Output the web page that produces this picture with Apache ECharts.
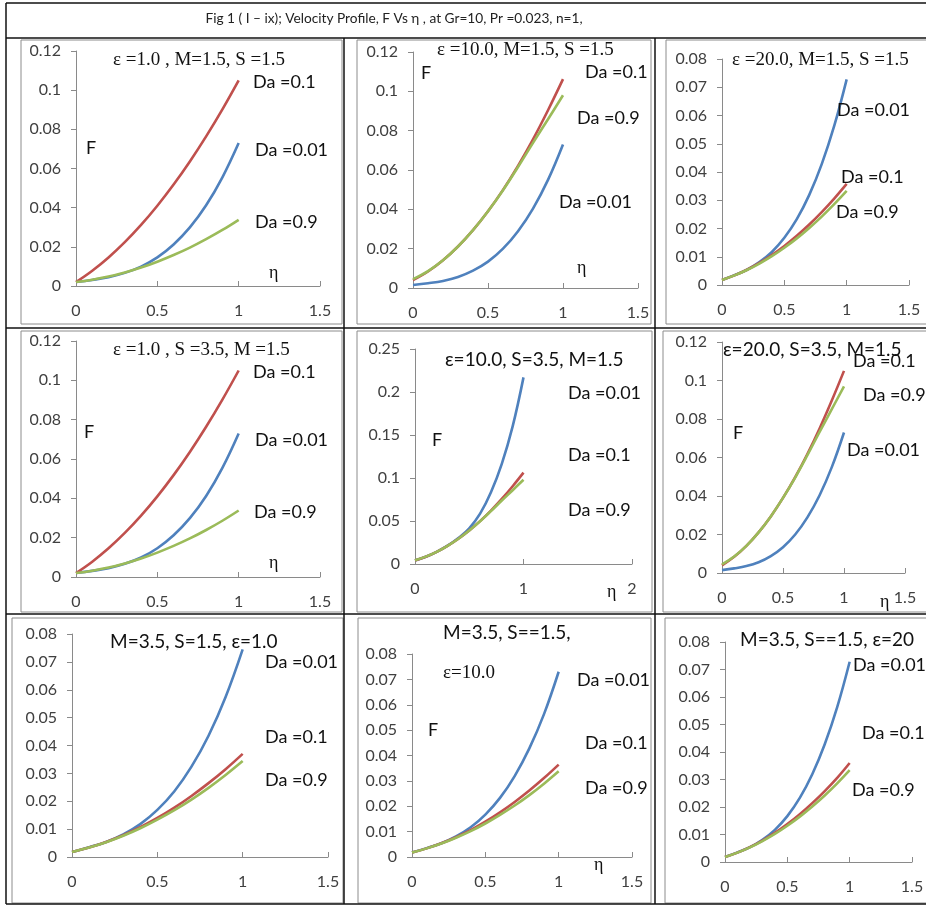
<!DOCTYPE html>
<html><head><meta charset="utf-8">
<script src="https://cdn.jsdelivr.net/npm/echarts@6/dist/echarts.min.js"></script>
<style>html,body{margin:0;padding:0;background:#fff}#c{width:926px;height:905px}</style>
</head><body><div id="c"></div>
<script>
// ---------- data ----------
const ETA = [0, 0.1, 0.2, 0.3, 0.4, 0.5, 0.6, 0.7, 0.8, 0.9, 1.0];
// panel i : eps=1.0, M=1.5, S=1.5
const p1_da01  = [0.002, 0.0078, 0.0146, 0.0224, 0.0312, 0.041, 0.0518, 0.0636, 0.0764, 0.0902, 0.105];
const p1_da001 = [0.002, 0.0031, 0.0045, 0.0067, 0.0099, 0.0146, 0.0212, 0.0299, 0.0412, 0.0555, 0.073];
const p1_da09  = [0.002, 0.0032, 0.0048, 0.0069, 0.0094, 0.0124, 0.0158, 0.0196, 0.0239, 0.0286, 0.0338];
// panel ii : eps=10.0, M=1.5, S=1.5
const p2_da01  = [0.004, 0.0084, 0.0141, 0.0211, 0.0294, 0.039, 0.0499, 0.0621, 0.0756, 0.0904, 0.1062];
const p2_da001 = [0.0015, 0.0024, 0.0036, 0.0056, 0.0088, 0.0134, 0.020, 0.0289, 0.0404, 0.055, 0.073];
const p2_da09  = [0.0045, 0.0086, 0.0141, 0.0211, 0.0294, 0.039, 0.0497, 0.0615, 0.0738, 0.0858, 0.098];
// panel iii : eps=20.0, M=1.5, S=1.5
const p3_da01  = [0.0018, 0.0034, 0.0054, 0.0078, 0.0106, 0.0138, 0.0174, 0.0214, 0.0258, 0.0306, 0.0358];
const p3_da001 = [0.0018, 0.0035, 0.0054, 0.0081, 0.0117, 0.0167, 0.0233, 0.0319, 0.0428, 0.0563, 0.0728];
const p3_da09  = [0.0018, 0.0034, 0.0053, 0.0076, 0.0102, 0.0132, 0.0165, 0.0202, 0.0242, 0.0286, 0.0333];
// panel iv : eps=1.0, S=3.5, M=1.5
const p4_da01  = [0.002, 0.0078, 0.0146, 0.0224, 0.0312, 0.041, 0.0518, 0.0636, 0.0764, 0.0902, 0.105];
const p4_da001 = [0.002, 0.0031, 0.0045, 0.0067, 0.0099, 0.0146, 0.0212, 0.0299, 0.0412, 0.0555, 0.073];
const p4_da09  = [0.002, 0.0032, 0.0048, 0.0069, 0.0094, 0.0124, 0.0158, 0.0196, 0.0239, 0.0286, 0.0338];
// panel v : eps=10.0, S=3.5, M=1.5
const p5_da01  = [0.004, 0.0084, 0.0141, 0.0211, 0.0294, 0.039, 0.0499, 0.0621, 0.0756, 0.0904, 0.1062];
const p5_da001 = [0.004, 0.0085, 0.0142, 0.0213, 0.0302, 0.0415, 0.0585, 0.0835, 0.1165, 0.160, 0.217];
const p5_da09  = [0.0045, 0.0086, 0.0141, 0.0211, 0.0294, 0.039, 0.0497, 0.0615, 0.0738, 0.0858, 0.098];
// panel vi : eps=20.0, S=3.5, M=1.5
const p6_da01  = [0.004, 0.0084, 0.0141, 0.0211, 0.0294, 0.039, 0.0498, 0.0618, 0.0751, 0.0896, 0.105];
const p6_da001 = [0.0015, 0.0024, 0.0036, 0.0056, 0.0088, 0.0134, 0.020, 0.0289, 0.0404, 0.055, 0.073];
const p6_da09  = [0.0045, 0.0086, 0.0141, 0.0211, 0.0294, 0.039, 0.0496, 0.0612, 0.0733, 0.0851, 0.097];
// panel vii : M=3.5, S=1.5, eps=1.0
const p7_da01  = [0.0018, 0.0034, 0.0054, 0.0078, 0.0107, 0.014, 0.0177, 0.0219, 0.0265, 0.0315, 0.037];
const p7_da001 = [0.0018, 0.0035, 0.0054, 0.0081, 0.0118, 0.0169, 0.0236, 0.0324, 0.0435, 0.0574, 0.0745];
const p7_da09  = [0.0018, 0.0034, 0.0053, 0.0076, 0.0103, 0.0134, 0.0168, 0.0206, 0.0248, 0.0294, 0.0344];
// panel viii : M=3.5, S=1.5, eps=10.0
const p8_da01  = [0.0018, 0.0034, 0.0054, 0.0078, 0.0106, 0.0139, 0.0176, 0.0217, 0.0262, 0.0311, 0.0364];
const p8_da001 = [0.0018, 0.0035, 0.0054, 0.0081, 0.0117, 0.0167, 0.0233, 0.0319, 0.0428, 0.0563, 0.073];
const p8_da09  = [0.0018, 0.0034, 0.0053, 0.0076, 0.0102, 0.0132, 0.0166, 0.0203, 0.0244, 0.0289, 0.0338];
// panel ix : M=3.5, S=1.5, eps=20
const p9_da01  = [0.0018, 0.0034, 0.0054, 0.0078, 0.0106, 0.0138, 0.0174, 0.0214, 0.0258, 0.0306, 0.036];
const p9_da001 = [0.0018, 0.0035, 0.0054, 0.0081, 0.0117, 0.0167, 0.0233, 0.0319, 0.0428, 0.0563, 0.0728];
const p9_da09  = [0.0018, 0.0034, 0.0053, 0.0076, 0.0102, 0.0132, 0.0165, 0.0202, 0.0242, 0.0286, 0.0334];

const X_MAX = [1.5, 1.5, 1.5, 1.5, 2, 1.5, 1.5, 1.5, 1.5];
const X_INT = [0.5, 0.5, 0.5, 0.5, 1, 0.5, 0.5, 0.5, 0.5];
const Y_MAX = [0.12, 0.12, 0.08, 0.12, 0.25, 0.12, 0.08, 0.08, 0.08];
const Y_INT = [0.02, 0.02, 0.01, 0.02, 0.05, 0.02, 0.01, 0.01, 0.01];

const PANELS = [
  [p1_da001, p1_da01, p1_da09], [p2_da001, p2_da01, p2_da09], [p3_da001, p3_da01, p3_da09],
  [p4_da001, p4_da01, p4_da09], [p5_da001, p5_da01, p5_da09], [p6_da001, p6_da01, p6_da09],
  [p7_da001, p7_da01, p7_da09], [p8_da001, p8_da01, p8_da09], [p9_da001, p9_da01, p9_da09]
];
const SERIES_NAMES = ['Da =0.01', 'Da =0.1', 'Da =0.9'];
const COLORS = ['#4F81BD', '#C0504D', '#9BBB59'];

// ---------- layout ----------
const GRIDS = [
  {left: 76, top: 51, width: 244, height: 235},
  {left: 413, top: 52, width: 225, height: 236},
  {left: 722, top: 59, width: 187, height: 226},
  {left: 76, top: 341, width: 244, height: 236},
  {left: 415, top: 349, width: 217, height: 215},
  {left: 722, top: 342, width: 183, height: 231},
  {left: 72, top: 634, width: 256, height: 223},
  {left: 412, top: 654, width: 220, height: 203},
  {left: 725, top: 642, width: 187, height: 220}
];

const AX_COL = '#8a8a8a';
const LBL_COL = '#404040';
const SANS = 'Lato, "Open Sans", sans-serif';
const SERIF = '"Liberation Serif", "DejaVu Serif", serif';

const grid = GRIDS.map(g => Object.assign({outerBoundsMode: 'none', containLabel: false}, g));
const xAxis = GRIDS.map((g, i) => ({
  type: 'value', gridIndex: i, min: 0, max: X_MAX[i], interval: X_INT[i],
  axisLine: {show: true, lineStyle: {color: AX_COL, width: 1}},
  axisTick: {show: true, inside: true, length: 5, lineStyle: {color: AX_COL}},
  axisLabel: {color: LBL_COL, fontFamily: SANS, fontSize: 16, margin: 17},
  splitLine: {show: false}
}));
const yAxis = GRIDS.map((g, i) => ({
  type: 'value', gridIndex: i, min: 0, max: Y_MAX[i], interval: Y_INT[i],
  axisLine: {show: true, lineStyle: {color: AX_COL, width: 1}},
  axisTick: {show: true, length: 5, lineStyle: {color: AX_COL}},
  axisLabel: {color: LBL_COL, fontFamily: SANS, fontSize: 16, margin: 15},
  splitLine: {show: false}
}));
const series = [];
PANELS.forEach((arrs, i) => {
  arrs.forEach((arr, k) => {
    series.push({
      type: 'line', name: SERIES_NAMES[k], xAxisIndex: i, yAxisIndex: i,
      data: ETA.map((e, j) => [e, arr[j]]), smooth: 0.4, showSymbol: false, symbol: 'none',
      lineStyle: {color: COLORS[k], width: 2.6}, itemStyle: {color: COLORS[k]}, z: 2 + k
    });
  });
});

// ---------- frame & annotations ----------
const G = [];
function line(x1, y1, x2, y2, c, w) { G.push({type: 'line', shape: {x1, y1, x2, y2}, style: {stroke: c, lineWidth: w}, z: 10}); }
function box(x, y, w, h) { G.push({type: 'rect', shape: {x, y, width: w, height: h}, style: {fill: 'none', stroke: '#8c8c8c', lineWidth: 1}, z: 1}); }
function txt(x, y, text, size, family, extra) {
  const st = Object.assign({text, x: 0, y: 0, fill: '#111', fontSize: size, fontFamily: family, align: 'left', verticalAlign: 'middle', textAlign: 'left', textVerticalAlign: 'middle'}, extra || {});
  G.push({type: 'text', x, y, style: st, z: 20});
}
// gray chart-area boxes
box(21, 40, 321, 284); box(357, 40, 294, 284); box(666, 40, 270, 284);
box(21, 331, 321, 281); box(357, 331, 295, 281); box(663, 331, 270, 281);
box(12, 618, 331, 285); box(358, 618, 293, 285); box(665, 618, 270, 285);
// black table lines
line(6, 3, 926, 3, '#111', 1.5);
line(6, 38, 926, 38, '#111', 1.5);
line(6, 328, 926, 328, '#111', 1.5);
line(6, 614, 926, 614, '#111', 1.5);
line(6, 904, 926, 904, '#111', 1.5);
line(6, 3, 6, 904, '#111', 1.5);
line(344, 38, 344, 904, '#111', 1.5);
line(655, 38, 655, 904, '#111', 1.5);

// title
txt(394, 19, 'Fig 1 ( I \u2013 ix); Velocity Profile, F Vs \u03b7 , at Gr=10, Pr =0.023, n=1,', 13.7, SANS, {align: 'center', textAlign: 'center', fill: '#222'});

const DA = 18;
const PT = 19;
// panel 1
txt(113, 60, '\u03b5 =1.0 , M=1.5, S =1.5', PT, SERIF);
txt(253, 82, 'Da =0.1', DA, SANS);
txt(86, 148, 'F', DA, SANS);
txt(255, 150, 'Da =0.01', DA, SANS);
txt(255, 222, 'Da =0.9', DA, SANS);
txt(269, 273, '\u03b7', 18, SERIF);
// panel 2
txt(437, 50, '\u03b5 =10.0, M=1.5, S =1.5', PT, SERIF);
txt(421, 73, 'F', DA, SANS);
txt(585, 72, 'Da =0.1', DA, SANS);
txt(577, 118, 'Da =0.9', DA, SANS);
txt(559, 202, 'Da =0.01', DA, SANS);
txt(577, 268, '\u03b7', 18, SERIF);
// panel 3
txt(732, 60, '\u03b5 =20.0, M=1.5, S =1.5', PT, SERIF);
txt(837, 110, 'Da =0.01', DA, SANS);
txt(841, 177, 'Da =0.1', DA, SANS);
txt(836, 212, 'Da =0.9', DA, SANS);
// panel 4
txt(113, 350, '\u03b5 =1.0 , S =3.5, M =1.5', PT, SERIF);
txt(253, 372, 'Da =0.1', DA, SANS);
txt(84, 432, 'F', DA, SANS);
txt(255, 440, 'Da =0.01', DA, SANS);
txt(254, 512, 'Da =0.9', DA, SANS);
txt(269, 563, '\u03b7', 18, SERIF);
// panel 5
txt(445, 360, '\u03b5=10.0, S=3.5, M=1.5', PT, SANS);
txt(568, 393, 'Da =0.01', DA, SANS);
txt(432, 440, 'F', DA, SANS);
txt(568, 455, 'Da =0.1', DA, SANS);
txt(568, 510, 'Da =0.9', DA, SANS);
txt(607, 592, '\u03b7', 18, SERIF);
// panel 6
txt(723, 350, '\u03b5=20.0, S=3.5, M=1.5', PT, SANS);
txt(853, 361, 'Da =0.1', DA, SANS);
txt(863, 395, 'Da =0.9', DA, SANS);
txt(733, 433, 'F', DA, SANS);
txt(847, 450, 'Da =0.01', DA, SANS);
txt(880, 602, '\u03b7', 18, SERIF);
// panel 7
txt(110, 642, 'M=3.5, S=1.5, \u03b5=1.0', PT, SANS);
txt(265, 662, 'Da =0.01', DA, SANS);
txt(265, 737, 'Da =0.1', DA, SANS);
txt(265, 780, 'Da =0.9', DA, SANS);
// panel 8
txt(443, 633, 'M=3.5, S==1.5,', PT, SANS);
txt(443, 673, '\u03b5=10.0', PT, SERIF);
txt(428, 730, 'F', DA, SANS);
txt(577, 680, 'Da =0.01', DA, SANS, {width: 75, overflow: 'truncate', ellipsis: ''});
txt(585, 743, 'Da =0.1', DA, SANS);
txt(585, 788, 'Da =0.9', DA, SANS);
txt(594, 865, '\u03b7', 18, SERIF);
// panel 9
txt(740, 640, 'M=3.5, S==1.5, \u03b5=20', PT, SANS);
txt(853, 665, 'Da =0.01', DA, SANS);
txt(862, 733, 'Da =0.1', DA, SANS);
txt(852, 790, 'Da =0.9', DA, SANS);

const chart = echarts.init(document.getElementById('c'), null, {renderer: 'canvas'});
chart.setOption({
  backgroundColor: '#fff',
  animation: false,
  grid, xAxis, yAxis, series,
  graphic: G
});
</script>
</body></html>
